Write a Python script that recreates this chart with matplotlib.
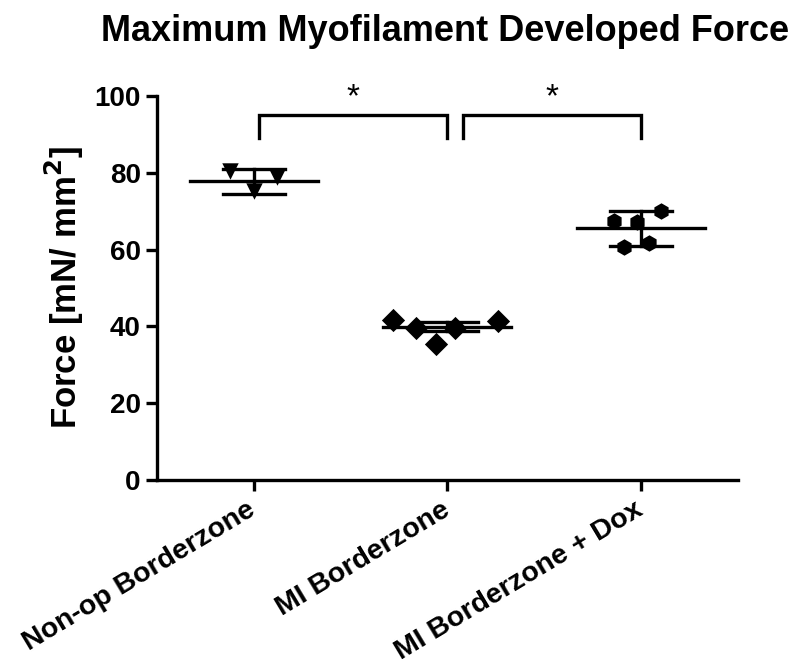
import numpy as np
import matplotlib
matplotlib.use("Agg")
import matplotlib.pyplot as plt

plt.rcParams['font.family'] = ['Liberation Sans', 'DejaVu Sans']

groups = ["Non-op Borderzone", "MI Borderzone", "MI Borderzone + Dox"]

# individual measurements (mN/mm^2) and their horizontal jitter
nonop_vals = [80.5, 78.9, 75.3]
nonop_jit = [-0.12, 0.12, 0.0]
mi_vals = [41.7, 39.6, 35.5, 39.5, 41.5]
mi_jit = [-0.28, -0.16, -0.06, 0.04, 0.26]
dox_vals = [67.5, 67.1, 60.6, 61.6, 70.1]
dox_jit = [-0.14, -0.02, -0.09, 0.04, 0.10]

# mean and error bar as drawn
means = [77.8, 39.9, 65.5]
errs = [3.2, 1.2, 4.5]

# significance brackets (from group, to group, label)
brackets = [(0, 1, "*"), (1, 2, "*")]

fig = plt.figure(figsize=(8.04, 6.66), dpi=100)
ax = fig.add_axes([0.195, 0.279, 0.723, 0.577])

lw = 2.4
point_sets = [(nonop_vals, nonop_jit, "v"), (mi_vals, mi_jit, "D"), (dox_vals, dox_jit, "h")]
for i, (vals, jit, mk) in enumerate(point_sets):
    xs = i + np.array(jit)
    ax.scatter(xs, vals, marker=mk, s=140, color="black", zorder=3, linewidths=0)
    # mean line
    ax.plot([i - 0.33, i + 0.33], [means[i], means[i]], color="black", lw=lw, zorder=4)
    # error bar
    ax.plot([i, i], [means[i] - errs[i], means[i] + errs[i]], color="black", lw=lw, zorder=4)
    for yy in (means[i] - errs[i], means[i] + errs[i]):
        ax.plot([i - 0.16, i + 0.16], [yy, yy], color="black", lw=lw, zorder=4)

for a, b, lab in brackets:
    x0 = a + 0.03 if a == 0 else a + 0.08
    x1 = b
    ax.plot([x0, x0, x1, x1], [89, 95, 95, 89], color="black", lw=lw, clip_on=False,
            solid_joinstyle="miter")
    ax.text((x0 + x1) / 2, 99.5, lab, ha="center", va="center", fontsize=24, clip_on=False)

ax.set_xlim(-0.5, 2.5)
ax.set_ylim(0, 100)
ax.set_yticks([0, 20, 40, 60, 80, 100])
ax.set_xticks(range(3))
ax.set_xticklabels(groups, rotation=31, ha="right", va="center", rotation_mode="anchor",
                   fontsize=20.5, fontweight="bold")
for t in ax.get_yticklabels():
    t.set_fontsize(20)
    t.set_fontweight("bold")

ax.spines["top"].set_visible(False)
ax.spines["right"].set_visible(False)
ax.spines["left"].set_linewidth(lw)
ax.spines["bottom"].set_linewidth(lw)
ax.tick_params(axis="both", width=lw, length=8, direction="out")
ax.tick_params(axis="x", pad=12)

ax.set_ylabel("Force [mN/ mm$^\\mathbf{2}$]", fontsize=25, fontweight="bold", labelpad=6)
fig.text(0.553, 0.952, "Maximum Myofilament Developed Force", ha="center", va="center",
         fontsize=26, fontweight="bold")

fig.savefig("out.png", dpi=100)
